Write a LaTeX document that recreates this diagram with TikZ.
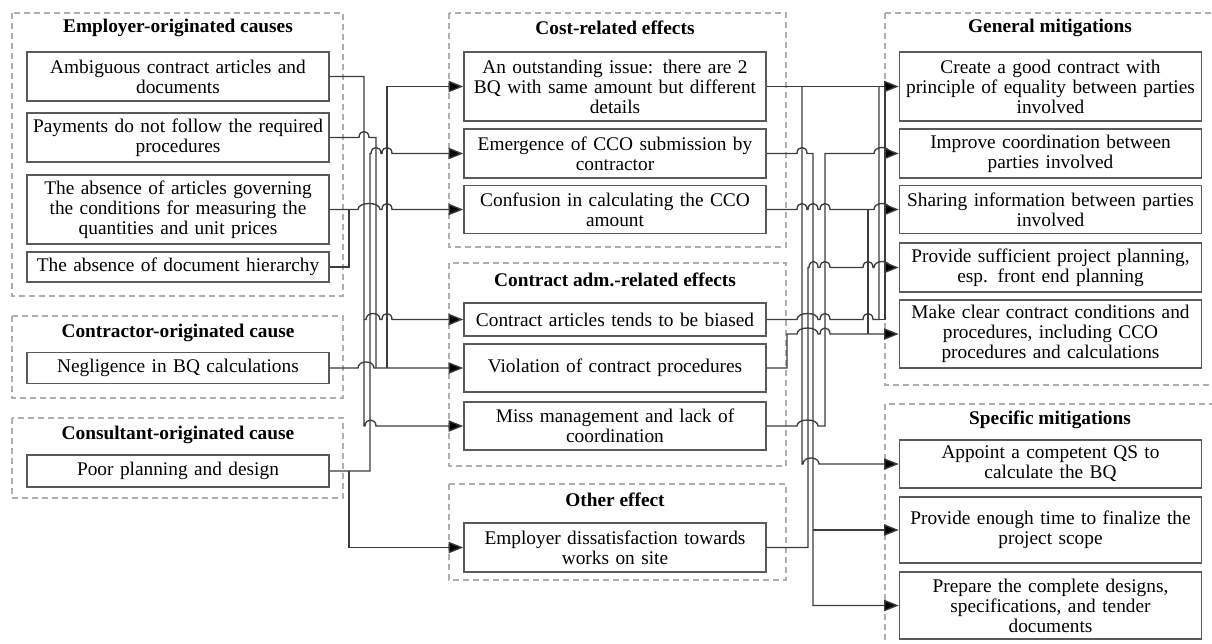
\documentclass[tikz,border=0pt]{standalone}
\usepackage{fontspec}
\setmainfont{Liberation Serif}
\usetikzlibrary{arrows.meta}

\tikzset{every picture/.style={line width=0.75pt}}
\tikzset{
  grp/.style={draw={rgb, 255:red, 175; green, 175; blue, 175}, dash pattern=on 4.5pt off 3pt, line width=0.9pt},
  box/.style={draw={rgb, 255:red, 90; green, 90; blue, 90}, line width=1.1pt, minimum width=226.5pt, minimum height=#1, text width=222pt, align=center, inner sep=0pt, font=\fontsize{14.5}{15}\selectfont},
  ttl/.style={font=\fontsize{14.5}{15}\selectfont\bfseries},
  wire/.style={draw={rgb, 255:red, 60; green, 60; blue, 60}, line width=1pt},
  arr/.style={wire, -{Triangle[length=11pt,width=8.5pt,fill=black]}}
}
% line hop over a crossing wire: from x #1 to x #2 at height #3
\newcommand{\hop}[3]{-- (#1,#3) .. controls (#1,#3-8) and (#2,#3-8) .. (#2,#3)}

\begin{document}
\begin{tikzpicture}[x=0.75pt,y=0.75pt,yscale=-1,xscale=1]
	\useasboundingbox (0,0) rectangle (1212,643);

	%Shape: Rectangle (groups)
	\draw [grp] (12,13) rectangle (343,296) ;
	\draw [grp] (12,316) rectangle (343,398) ;
	\draw [grp] (12,418) rectangle (343,498) ;
	\draw [grp] (449,13) rectangle (786,247) ;
	\draw [grp] (449,263) rectangle (786,466) ;
	\draw [grp] (449,484) rectangle (786,580) ;
	\draw [grp] (885,13) rectangle (1216,385) ;
	\draw [grp] (885,404) rectangle (1216,648) ;

	% Text Node (titles)
	\node [ttl] (tEmp) at (178,28) {Employer-originated causes};
	\node [ttl] (tCtr) at (178,333) {Contractor-originated cause};
	\node [ttl] (tCsl) at (178,435) {Consultant-originated cause};
	\node [ttl] (tCost) at (615,28) {Cost-related effects};
	\node [ttl] (tAdm) at (615,280) {Contract adm.-related effects};
	\node [ttl] (tOth) at (615,500) {Other effect};
	\node [ttl] (tGen) at (1050,28) {General mitigations};
	\node [ttl] (tSpe) at (1050,420) {Specific mitigations};

	% Causes
	\node [box=36.75pt] (a1) at (178,76.5) {Ambiguous contract articles and\\documents};
	\node [box=36.75pt] (a2) at (178,137.5) {Payments do not follow the required\\procedures};
	\node [box=51.75pt] (a3) at (178,209.5) {The absence of articles governing\\the conditions for measuring the\\quantities and unit prices};
	\node [box=22.5pt] (a4) at (178,267) {The absence of document hierarchy};
	\node [box=23.25pt] (b1) at (178,368) {Negligence in BQ calculations};
	\node [box=24pt] (d1) at (178,471) {Poor planning and design};

	% Effects
	\node [box=51.75pt] (c1) at (615,86.5) {An outstanding issue: there are 2\\BQ with same amount but different\\details};
	\node [box=36.75pt] (c2) at (615,153.5) {Emergence of CCO submission by\\contractor};
	\node [box=36pt] (c3) at (615,209.5) {Confusion in calculating the CCO\\amount};
	\node [box=24.75pt] (k1) at (615,319.5) {Contract articles tends to be biased};
	\node [box=36pt] (k2) at (615,368) {Violation of contract procedures};
	\node [box=36pt] (k3) at (615,426) {Miss management and lack of\\coordination};
	\node [box=36.75pt] (o1) at (615,547.5) {Employer dissatisfaction towards\\works on site};

	% Mitigations
	\node [box=51.75pt] (g1) at (1050.5,86.5) {Create a good contract with\\principle of equality between parties\\involved};
	\node [box=36.75pt] (g2) at (1050.5,153.5) {Improve coordination between\\parties involved};
	\node [box=36pt] (g3) at (1050.5,209.5) {Sharing information between parties\\involved};
	\node [box=36.75pt] (g4) at (1050.5,267.5) {Provide sufficient project planning,\\esp. front end planning};
	\node [box=51pt] (g5) at (1050.5,334) {Make clear contract conditions and\\procedures, including CCO\\procedures and calculations};
	\node [box=36pt] (s1) at (1050.5,464) {Appoint a competent QS to\\calculate the BQ};
	\node [box=49.5pt] (s2) at (1050.5,530) {Provide enough time to finalize the\\project scope};
	\node [box=50.25pt] (s3) at (1050.5,605.5) {Prepare the complete designs,\\specifications, and tender\\documents};

	%Straight Lines (causes to effects)
	\draw [arr] (a1.east) -- (364,76.5) -- (364,426) \hop{365}{376}{426} -- (k3.west);
	\draw [arr] (364,319.5) \hop{366}{380}{319.5} \hop{382}{392}{319.5} -- (k1.west);
	\draw [wire] (a2.east) \hop{359}{369}{137.5} -- (376,137.5) -- (376,368);
	\draw [arr] (b1.east) \hop{358}{374}{368} -- (k2.west);
	\draw [arr] (387,368) |- (c1.west);
	\draw [arr] (d1.east) -- (370,471) -- (370,153.5) \hop{371}{381}{153.5} \hop{382}{392}{153.5} -- (c2.west);
	\draw [arr] (349,471) |- (o1.west);
	\draw [arr] (a3.east) -- (349,209.5) \hop{358}{380}{209.5} \hop{382}{392}{209.5} -- (c3.west);
	\draw [wire] (a4.east) -| (349,209.5);

	%Straight Lines (effects to mitigations)
	\draw [arr] (c1.east) -- (g1.west);
	\draw [arr] (802,86.5) -- (802,464) \hop{803}{819}{464} -- (s1.west);
	\draw [arr] (c2.east) \hop{797}{807}{153.5} -- (813,153.5) |- (s3.west);
	\draw [arr] (813,530) -- (s2.west);
	\draw [arr] (k3.east) \hop{797}{818}{426} -- (825,426) -- (825,153.5) \hop{874}{890}{153.5} -- (g2.west);
	\draw [arr] (c3.east) \hop{797}{807}{209.5} \hop{808}{818}{209.5} \hop{820}{830}{209.5} -- (868,209.5) \hop{874}{890}{209.5} -- (g3.west);
	\draw [wire] (868,209.5) -- (868,334);
	\draw [arr] (k2.east) -- (787,368) -- (787,334) \hop{797}{818}{334} \hop{820}{830}{334} -- (g5.west);
	\draw [arr] (o1.east) -- (808,547.5) -- (808,267.5) \hop{809}{818}{267.5} \hop{820}{830}{267.5} \hop{863}{873}{267.5} \hop{874}{890}{267.5} -- (g4.west);
	\draw [wire] (k1.east) \hop{797}{818}{319.5} \hop{820}{830}{319.5} \hop{863}{873}{319.5} -- (879,319.5) -- (879,86.5);
	\draw [wire] (879,319.5) -- (885,319.5) -- (885,86.5);

\end{tikzpicture}
\end{document}
